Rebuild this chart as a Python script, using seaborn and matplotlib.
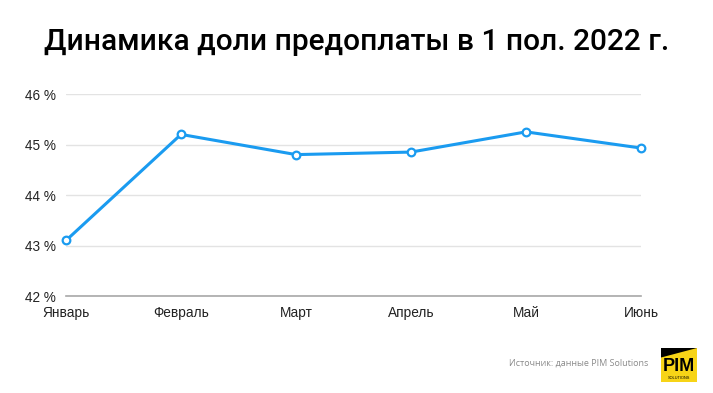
import matplotlib
matplotlib.use("Agg")
import matplotlib.pyplot as plt
import matplotlib.patches as mpatches
import seaborn as sns
import pandas as pd

# Data
months = ["Январь", "Февраль", "Март", "Апрель", "Май", "Июнь"]
share = [43.1, 45.2, 44.8, 44.85, 45.25, 44.93]
y_ticks = [42, 43, 44, 45, 46]

df = pd.DataFrame({"month": months, "share": share})

sns.set_theme(style="white")
plt.rcParams["font.family"] = ["Liberation Sans", "DejaVu Sans"]

fig = plt.figure(figsize=(7.13, 3.93), dpi=100)
ax = fig.add_axes([0.0926, 0.2468, 0.8064, 0.514])

line_color = "#1A9BF0"
sns.lineplot(data=df, x="month", y="share", ax=ax, color=line_color,
             linewidth=2.2, marker="o", markersize=5.5,
             markerfacecolor="white", markeredgecolor=line_color,
             markeredgewidth=1.6, clip_on=False, zorder=5)

ax.set_xlim(0, len(months) - 1)
ax.set_ylim(42, 46)
ax.set_yticks(y_ticks)
ax.set_yticklabels([f"{t} %" for t in y_ticks])
ax.set_xlabel("")
ax.set_ylabel("")

ax.grid(axis="y", color="#E3E3E3", linewidth=1)
ax.grid(axis="x", visible=False)
for side in ["top", "right", "left"]:
    ax.spines[side].set_visible(False)
ax.spines["bottom"].set_color("#A8A8A8")
ax.spines["bottom"].set_linewidth(1.2)
ax.tick_params(axis="both", length=0, labelsize=9.8, colors="#222222")
ax.tick_params(axis="y", pad=7)
ax.tick_params(axis="x", pad=7)

fig.text(0.5, 0.893, "Динамика доли предоплаты в 1 пол. 2022 г.",
         ha="center", va="center", fontsize=21.5, color="black",
         family=["Roboto", "DejaVu Sans"], fontweight="medium")

fig.text(0.811, 0.076, "Источник: данные PIM Solutions",
         ha="center", va="center", fontsize=6.5, color="#8A8A8A",
         family=["Open Sans", "DejaVu Sans"])

# PIM logo
lx, ly, lw, lh = 661 / 713, 1 - 382 / 393, 36 / 713, 34 / 393
fig.patches.append(mpatches.Rectangle((lx, ly), lw, lh, transform=fig.transFigure,
                                      facecolor="#F7D417", edgecolor="none"))
fig.patches.append(mpatches.Polygon([(lx, ly + lh), (lx + lw, ly + lh), (lx, ly + lh * 0.72)],
                                    closed=True, transform=fig.transFigure,
                                    facecolor="black", edgecolor="none"))
fig.text(lx + lw / 2, ly + lh * 0.47, "PIM", ha="center", va="center",
         fontsize=13, fontweight="bold", color="black")
fig.text(lx + lw / 2, ly + lh * 0.13, "SOLUTIONS", ha="center", va="center",
         fontsize=2.8, color="black")

fig.savefig("out.png", dpi=100)
